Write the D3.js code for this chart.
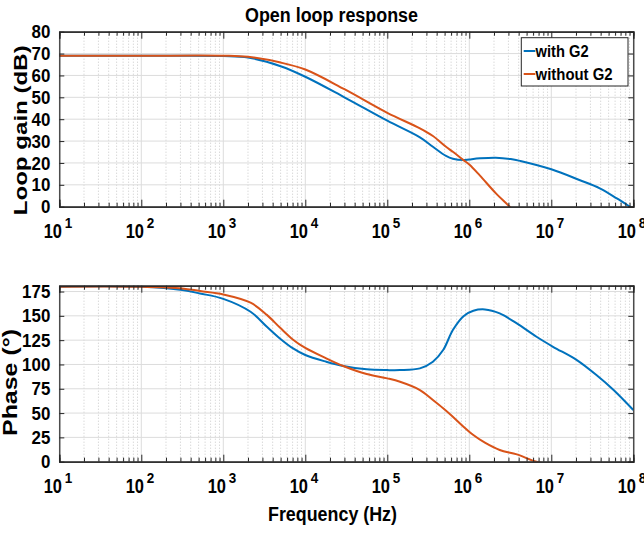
<!DOCTYPE html>
<html>
<head>
  <script src="https://cdnjs.cloudflare.com/ajax/libs/d3/7.8.5/d3.min.js"></script>
  <style>
    body { margin: 0; background: #fff; }
    text { font-family: "Liberation Sans", Arial, Helvetica, sans-serif; font-weight: bold; fill: #000; }
    .domain { stroke: #262626; stroke-width: 1.2px; }
    .tick line { stroke: #262626; stroke-width: 1px; }
  </style>
</head>
<body>
  <svg id="chart" width="644" height="533"></svg>
  <script>
    // values
    var seriesNames = ["with G2", "without G2"];
    var seriesColors = ["#0072BD", "#D95319"];

    var gainFreq = [10, 100, 1000, 2000, 5000, 1e4, 3e4, 1e5, 2.5e5, 3.6e5, 5.2e5, 6.3e5, 8.5e5, 1e6,
                    1.35e6, 2.1e6, 3.2e6, 4.2e6, 1e7, 2.2e7, 3.9e7, 6.3e7, 9.1e7, 1e8];
    var gainWithG2 = [69, 69, 68.9, 68.2, 64.2, 59.4, 50, 39.3, 31.7, 27.4, 23.2, 21.9, 21.3, 21.6,
                      22.1, 22.4, 21.8, 20.9, 17.1, 12.2, 8.4, 3.8, 0, -1.0];
    var gainWithoutG2 = [69, 69, 69, 68.5, 65.9, 62.7, 53.7, 42.9, 35.8, 32.3, 27.4, 25.1, 21.3, 19.3,
                         14.2, 6.2, -0.5, -5.5, null, null, null, null, null, null];

    var phaseFreq = [10, 100, 316, 520, 1000, 2150, 3400, 4900, 7100, 1e4, 1.8e4, 2.9e4, 5.6e4, 1e5,
                     1.43e5, 2.5e5, 3.6e5, 4.8e5, 6.3e5, 8.5e5, 1.12e6, 1.55e6, 2.35e6, 3.8e6, 6.6e6,
                     1.05e7, 2.05e7, 3.55e7, 5.75e7, 1e8];
    var phaseWithG2 = [180, 179.8, 176.5, 173, 167.5, 154.2, 138.8, 126.8, 116.5, 109.7, 102.8, 98.4, 95, 94.2,
                       94.2, 96, 102.8, 114.8, 135.4, 149.7, 155.2, 156.6, 152.5, 142.2, 128.5,
                       118.2, 104.5, 89.1, 73.7, 53.1];
    var phaseWithoutG2 = [180, 179.9, 178.2, 175.5, 172, 163.5, 151, 138, 125.5, 117, 106.3, 98.4, 90.1, 85.7,
                          82.2, 73.7, 63.4, 54.9, 46.2, 36, 27.4, 19.5, 12, 7.5, 0,
                          -3, null, null, null, null];

    var gainTicks = [0, 10, 20, 30, 40, 50, 60, 70, 80];
    var phaseTicks = [0, 25, 50, 75, 100, 125, 150, 175];
    var decades = [1, 2, 3, 4, 5, 6, 7, 8];

    var svg = d3.select("#chart");
    var left = 59.3, right = 633.3;
    var x = d3.scaleLog().domain([1e1, 1e8]).range([left, right]);

    function isMajor(t) {
      var l = Math.log10(t);
      return Math.abs(l - Math.round(l)) < 1e-9;
    }
    var allTicks = x.ticks();
    var majorTicks = allTicks.filter(isMajor);
    var minorTicks = allTicks.filter(function(t) { return !isMajor(t); });

    function drawPanel(top, bottom, yMax, yTicks, freqs, series, clipId, labelBase) {
      var y = d3.scaleLinear().domain([0, yMax]).range([bottom, top]);
      var g = svg.append("g");

      svg.append("clipPath").attr("id", clipId)
        .append("rect").attr("x", left).attr("y", top)
        .attr("width", right - left).attr("height", bottom - top);

      // grid
      g.selectAll(".xminor").data(minorTicks).join("line")
        .attr("x1", d => x(d)).attr("x2", d => x(d))
        .attr("y1", top).attr("y2", bottom)
        .attr("stroke", "#c8c8c8").attr("stroke-width", 1)
        .attr("stroke-dasharray", "1,2");
      g.selectAll(".xmajor").data(majorTicks).join("line")
        .attr("x1", d => x(d)).attr("x2", d => x(d))
        .attr("y1", top).attr("y2", bottom)
        .attr("stroke", "#dcdcdc").attr("stroke-width", 1);
      g.selectAll(".ygrid").data(yTicks).join("line")
        .attr("x1", left).attr("x2", right)
        .attr("y1", d => y(d)).attr("y2", d => y(d))
        .attr("stroke", "#dcdcdc").attr("stroke-width", 1);

      // curves
      series.forEach(function(vals, i) {
        var pts = freqs.map(function(f, j) { return {f: f, v: vals[j]}; });
        var line = d3.line()
          .defined(d => d.v != null)
          .x(d => x(d.f)).y(d => y(d.v))
          .curve(d3.curveCatmullRom.alpha(0.5));
        g.append("path").datum(pts)
          .attr("clip-path", "url(#" + clipId + ")")
          .attr("fill", "none")
          .attr("stroke", seriesColors[i])
          .attr("stroke-width", 2)
          .attr("d", line);
      });

      // axes box with inward ticks
      g.append("g").attr("transform", "translate(0," + bottom + ")")
        .call(d3.axisBottom(x).tickValues(minorTicks).tickSize(-4).tickFormat(""));
      g.append("g").attr("transform", "translate(0," + bottom + ")")
        .call(d3.axisBottom(x).tickValues(majorTicks).tickSize(-7).tickFormat(""));
      g.append("g").attr("transform", "translate(0," + top + ")")
        .call(d3.axisTop(x).tickValues(minorTicks).tickSize(-4).tickFormat(""));
      g.append("g").attr("transform", "translate(0," + top + ")")
        .call(d3.axisTop(x).tickValues(majorTicks).tickSize(-7).tickFormat(""));
      g.append("g").attr("transform", "translate(" + right + ",0)")
        .call(d3.axisRight(y).tickValues(yTicks).tickSize(-5).tickFormat(""));
      var yAxis = g.append("g").attr("transform", "translate(" + left + ",0)")
        .call(d3.axisLeft(y).tickValues(yTicks).tickSizeInner(-5).tickSizeOuter(0).tickPadding(9));
      yAxis.selectAll("text")
        .style("font-size", "19px")
        .attr("textLength", d => String(d).length * 9.4)
        .attr("lengthAdjust", "spacingAndGlyphs");

      // x tick labels 10^n
      var lab = g.selectAll(".xlab").data(decades).join("g")
        .attr("transform", d => "translate(" + x(Math.pow(10, d)) + "," + labelBase + ")");
      lab.append("text")
        .attr("x", 2.7).attr("text-anchor", "end")
        .style("font-size", "19.5px")
        .attr("textLength", 18.3).attr("lengthAdjust", "spacingAndGlyphs")
        .text("10");
      lab.append("text")
        .attr("x", 5.5).attr("y", -10)
        .style("font-size", "15.5px")
        .attr("textLength", 7.5).attr("lengthAdjust", "spacingAndGlyphs")
        .text(d => d);
      return y;
    }

    drawPanel(31.7, 206.7, 80, gainTicks, gainFreq, [gainWithG2, gainWithoutG2], "clipGain", 238.3);
    drawPanel(285.7, 461.7, 181, phaseTicks, phaseFreq, [phaseWithG2, phaseWithoutG2], "clipPhase", 493.3);

    // title and axis labels
    svg.append("text").attr("x", 245).attr("y", 21.5)
      .style("font-size", "19.5px")
      .attr("textLength", 173).attr("lengthAdjust", "spacingAndGlyphs")
      .text("Open loop response");
    svg.append("text").attr("x", 268).attr("y", 520.7)
      .style("font-size", "19.5px")
      .attr("textLength", 129).attr("lengthAdjust", "spacingAndGlyphs")
      .text("Frequency (Hz)");
    svg.append("text")
      .attr("transform", "translate(27,130.3) rotate(-90)")
      .attr("text-anchor", "middle")
      .style("font-size", "19px")
      .attr("textLength", 170).attr("lengthAdjust", "spacingAndGlyphs")
      .text("Loop gain (dB)");
    svg.append("text")
      .attr("transform", "translate(16.7,382.5) rotate(-90)")
      .attr("text-anchor", "middle")
      .style("font-size", "19.5px")
      .attr("textLength", 107).attr("lengthAdjust", "spacingAndGlyphs")
      .text("Phase (°)");

    // legend
    var legend = svg.append("g");
    legend.append("rect")
      .attr("x", 521.3).attr("y", 37.7).attr("width", 106.7).attr("height", 48.3)
      .attr("fill", "#fff").attr("stroke", "#262626").attr("stroke-width", 1);
    var legendLen = [53, 77];
    seriesNames.forEach(function(name, i) {
      var ly = 51 + i * 23;
      legend.append("line")
        .attr("x1", 523.7).attr("x2", 535.3).attr("y1", ly).attr("y2", ly)
        .attr("stroke", seriesColors[i]).attr("stroke-width", 2);
      legend.append("text")
        .attr("x", 535.6).attr("y", ly + 6.3)
        .style("font-size", "16.5px")
        .attr("textLength", legendLen[i]).attr("lengthAdjust", "spacingAndGlyphs")
        .text(name);
    });
  </script>
</body>
</html>
